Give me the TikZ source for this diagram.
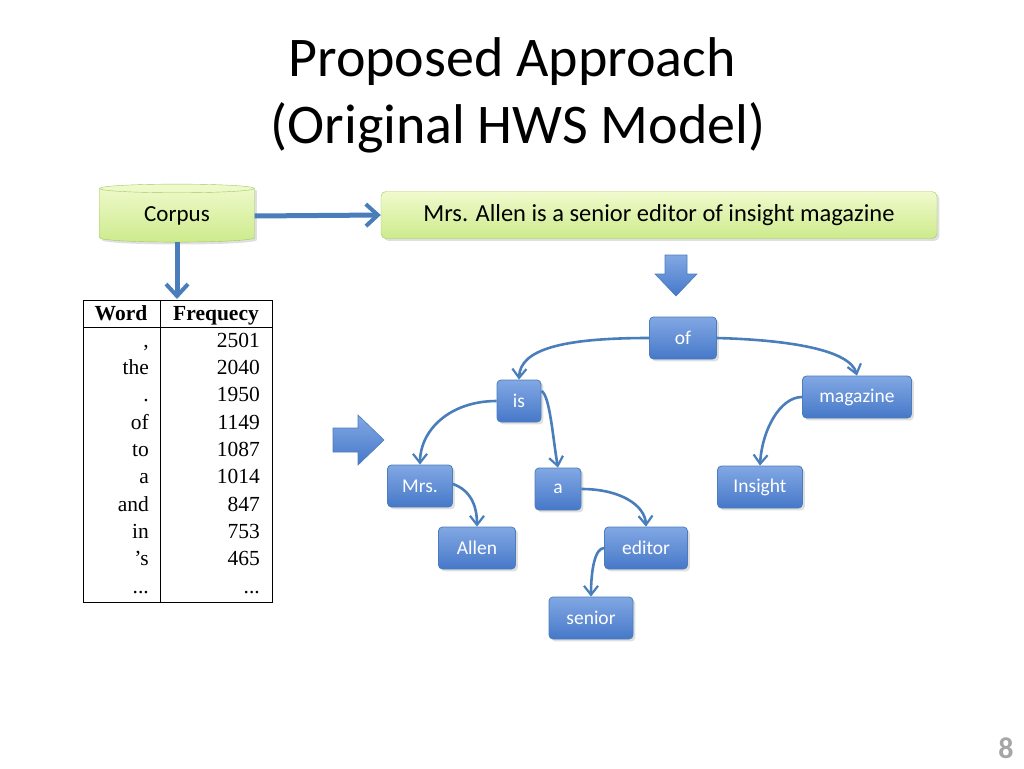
\documentclass[tikz,border=0pt]{standalone}
\usepackage{fontspec}
\setmainfont{Carlito}
\newfontfamily\tabfont{Liberation Serif}
\usetikzlibrary{arrows.meta,shapes.geometric,shadows}
\definecolor{lnblue}{RGB}{74,126,187}
\definecolor{bxtop}{RGB}{130,168,228}
\definecolor{bxbot}{RGB}{70,120,200}
\definecolor{grtop}{RGB}{240,250,205}
\definecolor{grbot}{RGB}{205,235,140}
\definecolor{grline}{RGB}{160,200,100}
\tikzset{
 wnode/.style={draw=lnblue,line width=0.8pt,rounded corners=4pt,top color=bxtop,bottom color=bxbot,
   text=white,font=\fontsize{19.5}{19.5}\selectfont,minimum height=42pt,inner xsep=6pt,drop shadow={opacity=0.25}},
 conn/.style={draw=lnblue,line width=2.6pt,-{Straight Barb[length=9pt,width=14pt,line width=2.2pt]}},
 tabtxt/.style={font=\tabfont\fontsize{21.5}{21.5}\selectfont,anchor=base east,inner sep=0pt},
 blockarrow/.style={top color=bxtop,bottom color=bxbot,draw=lnblue,line width=0.6pt}
}
\newcommand{\tabrow}[3]{%
  \node[tabtxt] at (149,{320+#1*27.3}) {#2};
  \node[tabtxt] at (260,{320+#1*27.3}) {#3};}
\begin{document}
\begin{tikzpicture}[x=1pt,y=-1pt]
\useasboundingbox (0,0) rectangle (1024,768);
% title
\node (t1) at (512,62) {\fontsize{56}{56}\selectfont Proposed Approach};
\node (t2) at (518,128) {\fontsize{56}{56}\selectfont (Original HWS Model)};
\node[text=gray!70,font=\bfseries\fontsize{30}{30}\selectfont] (pg) at (1006,748) {8};
% corpus cylinder
\node[cylinder,shape border rotate=90,aspect=0.12,draw=grline,top color=grtop,bottom color=grbot,
  minimum width=155pt,minimum height=58pt,font=\fontsize{23}{23}\selectfont,drop shadow={opacity=0.25}] (corpus) at (177,216) {Corpus};
\node[draw=grline,rounded corners=5pt,top color=grtop,bottom color=grbot,minimum width=556pt,minimum height=47pt,
  font=\fontsize{24.5}{24.5}\selectfont,drop shadow={opacity=0.25}] (sent) at (659,215) {Mrs. Allen is a senior editor of insight magazine};
\draw[conn,line width=5pt,-{Straight Barb[length=12pt,width=22pt,line width=4pt]}] (corpus.east) -- (sent.west);
\coordinate (tabtop) at (177,299);
\draw[conn,line width=5pt,-{Straight Barb[length=12pt,width=22pt,line width=4pt]}] (corpus.south) -- (tabtop);
% block arrows
\draw[blockarrow] (665,255) -- (687,255) -- (687,274) -- (697,274) -- (676,296) -- (655,274) -- (665,274) -- cycle;
\draw[blockarrow] (333,428) -- (358,428) -- (358,415) -- (384,440) -- (358,465) -- (358,452) -- (333,452) -- cycle;
% table
\draw[line width=0.8pt] (83,300) rectangle (272,602);
\draw[line width=0.8pt] (160,300) -- (160,602);
\draw[line width=0.8pt] (83,327) -- (272,327);
\node[tabtxt,anchor=base] (hw) at (121,320) {\bfseries Word};
\node[tabtxt,anchor=base] (hf) at (216,320) {\bfseries Frequecy};
\tabrow{1}{,}{2501}
\tabrow{2}{the}{2040}
\tabrow{3}{.}{1950}
\tabrow{4}{of}{1149}
\tabrow{5}{to}{1087}
\tabrow{6}{a}{1014}
\tabrow{7}{and}{847}
\tabrow{8}{in}{753}
\tabrow{9}{’s}{465}
\tabrow{10}{...}{...}
% tree
\node[wnode,minimum width=67pt] (of) at (683,338) {of};
\node[wnode,minimum width=44pt] (is) at (519,401) {is};
\node[wnode,minimum width=109pt] (mag) at (857,397) {magazine};
\node[wnode,minimum width=65pt] (mrs) at (420,486) {Mrs.};
\node[wnode,minimum width=46pt] (a) at (558,489) {a};
\node[wnode,minimum width=85pt] (ins) at (760,487) {Insight};
\node[wnode,minimum width=77pt] (allen) at (477,548) {Allen};
\node[wnode,minimum width=83pt] (ed) at (646,548) {editor};
\node[wnode,minimum width=84pt] (sen) at (591,618) {senior};
\draw[conn] (of.west) .. controls (560,338) and (520,350) .. (is.north);
\draw[conn] (of.east) .. controls (790,340) and (850,350) .. (mag.north);
\draw[conn] (is.west) .. controls (450,401) and (420,430) .. (mrs.north);
\draw[conn] ([yshift=10pt]is.east) .. controls (550,395) and (553,440) .. (a.north);
\draw[conn] (mag.west) .. controls (780,397) and (762,430) .. (ins.north);
\draw[conn] ([yshift=2pt]mrs.east) .. controls (470,490) and (477,505) .. (allen.north);
\draw[conn] (a.east) .. controls (620,489) and (645,505) .. (ed.north);
\draw[conn] (ed.west) .. controls (595,548) and (591,570) .. (sen.north);
\end{tikzpicture}
\end{document}
